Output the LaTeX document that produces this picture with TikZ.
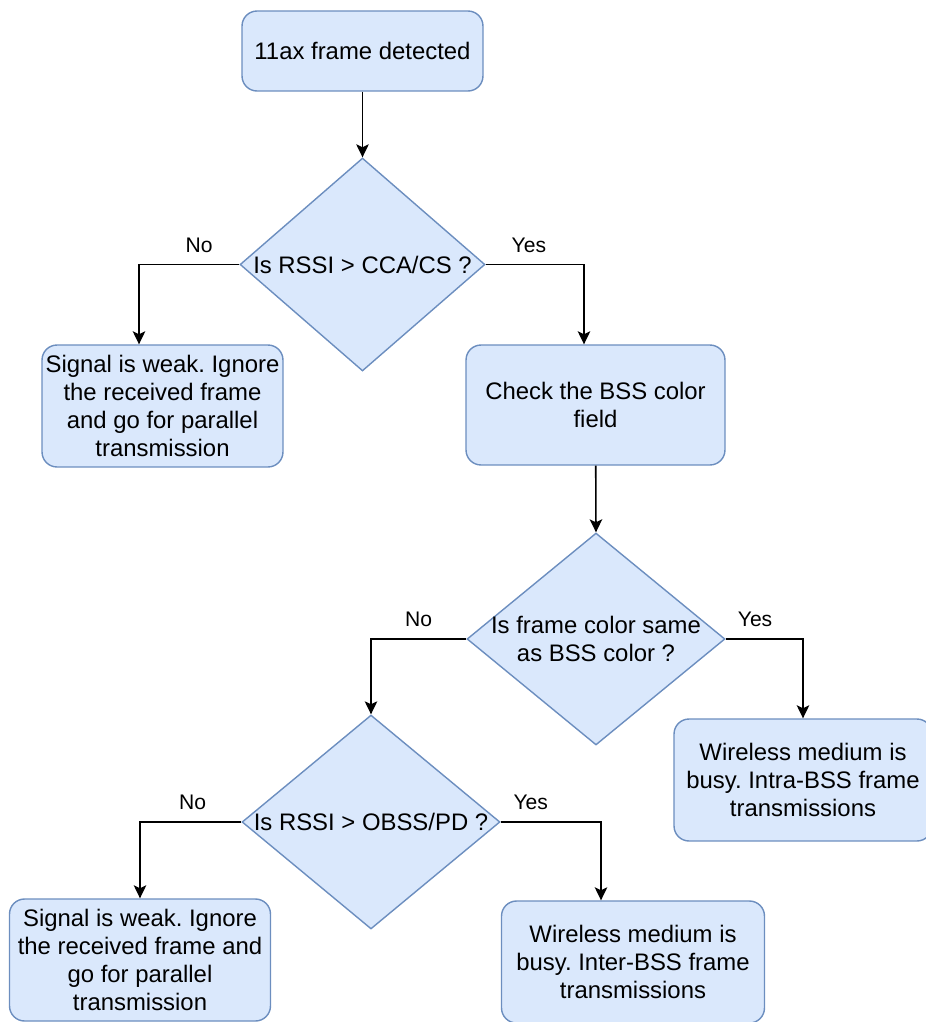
\documentclass[tikz,border=0pt]{standalone}
\usepackage{fontspec}
\setmainfont{Liberation Sans}
\frenchspacing
\usetikzlibrary{shapes.geometric,arrows.meta}
\definecolor{boxfill}{HTML}{DAE8FC}
\definecolor{boxline}{HTML}{6C8EBF}

\begin{document}
\begin{tikzpicture}[x=0.02cm,y=-0.02cm,
  box/.style={draw=boxline,fill=boxfill,line width=0.8pt,rounded corners=0.3cm,align=center,inner sep=0pt,font=\fontsize{13.6}{15.8}\selectfont},
  decision/.style={diamond,draw=boxline,fill=boxfill,line width=0.8pt,inner sep=0pt},
  dtext/.style={align=center,font=\fontsize{13.6}{15.8}\selectfont},
  arr/.style={-{Stealth[length=0.26cm,width=0.25cm,inset=0.06cm]},line width=0.9pt},
  lbl/.style={inner sep=0pt,above=0.23cm,font=\fontsize{12}{14}\selectfont}]
\useasboundingbox (0,0) rectangle (926,1022);
\node[box,minimum width=4.82cm,minimum height=1.6cm] (start) at (362.5,51) {11ax frame detected};
\node[decision,minimum width=4.9cm,minimum height=4.26cm,label={[dtext]center:{Is RSSI > CCA/CS ?}}] (rssi) at (362.5,264.5) {};
\node[box,minimum width=4.82cm,minimum height=2.44cm] (weakA) at (162.5,406) {Signal is weak. Ignore\\the received frame\\and go for parallel\\transmission};
\node[box,minimum width=5.18cm,minimum height=2.4cm] (check) at (595.5,405) {Check the BSS color\\field};
\node[decision,minimum width=5.16cm,minimum height=4.24cm,label={[dtext]center:{Is frame color same\\as BSS color ?}}] (color) at (596,639) {};
\node[box,minimum width=5.16cm,minimum height=2.44cm] (intra) at (803,780) {Wireless medium is\\busy. Intra-BSS frame\\transmissions};
\node[decision,minimum width=5.16cm,minimum height=4.28cm,label={[dtext]center:{Is RSSI > OBSS/PD ?}}] (obss) at (371,822) {};
\node[box,minimum width=5.22cm,minimum height=2.44cm] (weakB) at (140,960) {Signal is weak. Ignore\\the received frame and\\go for parallel\\transmission};
\node[box,minimum width=5.26cm,minimum height=2.44cm] (inter) at (633,962) {Wireless medium is\\busy. Inter-BSS frame\\transmissions};
% connectors
\draw[arr] (start) -- (rssi.north);
\draw[arr] (rssi.west) -| node[lbl,pos=.2] (noA) {No} ([xshift=-0.47cm]weakA.north);
\draw[arr] (rssi.east) -| node[lbl,pos=.22] (yesA) {Yes} ([xshift=-0.23cm]check.north);
\draw[arr] (check) -- (color.north);
\draw[arr] (color.east) -| node[lbl,pos=.19] (yesB) {Yes} (intra.north);
\draw[arr] (color.west) -| node[lbl,pos=.25] (noB) {No} (obss.north);
\draw[arr] (obss.west) -| node[lbl,pos=.24] (noC) {No} (weakB.north);
\draw[arr] (obss.east) -| node[lbl,pos=.15] (yesC) {Yes} ([xshift=-0.64cm]inter.north);
\end{tikzpicture}
\end{document}
